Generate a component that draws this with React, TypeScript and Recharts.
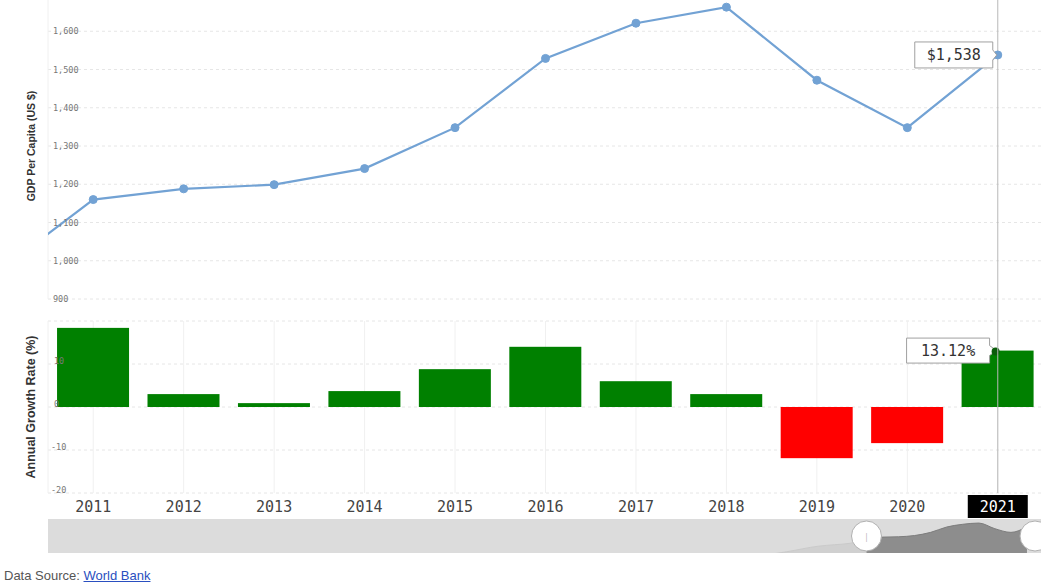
// GDP per capita + taxa de crescimento anual, estilo macrotrends, com Recharts.
import React from 'react'
import {
  LineChart, Line, BarChart, Bar, Cell, AreaChart, Area, XAxis, YAxis,
  CartesianGrid, ReferenceLine, ReferenceDot,
} from 'recharts'

// dados (2010 só aparece cortado na borda esquerda)
const years = [2010, 2011, 2012, 2013, 2014, 2015, 2016, 2017, 2018, 2019, 2020, 2021]
const gdpPerCapita = [980, 1160, 1188, 1199, 1241, 1348, 1529, 1621, 1663, 1472, 1348, 1538]
const gdpTicks = [900, 1000, 1100, 1200, 1300, 1400, 1500, 1600, 1700]

const growthYears = ['2011', '2012', '2013', '2014', '2015', '2016', '2017', '2018', '2019', '2020', '2021']
const growthRate = [18.4, 3.0, 0.9, 3.7, 8.8, 14.0, 6.0, 3.0, -11.9, -8.4, 13.12]
const growthTicks = [-20, -10, 0, 10, 20]

// navegador (histórico longo, bem apagado no original)
const navHistoryYears = [1960, 1965, 1970, 1975, 1980, 1985, 1990, 1995, 2000, 2003, 2006, 2008, 2009]
const navHistoryValues = [90, 110, 140, 230, 430, 330, 370, 350, 420, 480, 690, 880, 930]
const navLabels = [1960, 1970, 1980, 1990, 2000, 2010, 2020]

const LINE = '#72a2d4'
const MONO = '"DejaVu Sans Mono", monospace'
const SANS = '"Liberation Sans", Arial, sans-serif'

const gdpData = years.map((y, i) => ({ year: y, gdp: gdpPerCapita[i] }))
const growthData = growthYears.map((y, i) => ({ year: y, rate: growthRate[i] }))
const navYears = [...navHistoryYears, ...years]
const navValues = [...navHistoryValues, ...gdpPerCapita]
const navData = navYears.map((y, i) => ({
  year: y,
  past: y <= 2011 ? navValues[i] : null,
  sel: y >= 2011 ? navValues[i] : null,
}))

const lastGdp = gdpData.length - 1
const lastRate = growthData.length - 1
// px por unidade no painel de barras: 172px / 40
const CROSS_TOP = 20 + 22 / (172 / 40)

function callout(cx: number, cy: number, left: number, right: number, h: number, text: string) {
  const x0 = cx - left
  const x1 = cx - right
  const y0 = cy - h / 2
  const y1 = cy + h / 2
  const d = `M${x0},${y0} H${x1} V${cy - 5} L${cx - 1},${cy} L${x1},${cy + 5} V${y1} H${x0} Z`
  return (
    <g>
      <path d={d} fill="#fff" stroke="#a0a0a0" strokeWidth={1} />
      <text x={(x0 + x1) / 2} y={cy + 5} textAnchor="middle" fontFamily={MONO} fontSize={15} fill="#333">
        {text}
      </text>
    </g>
  )
}

function GdpDot(p: any) {
  const { cx, cy, index } = p
  if (cx == null || cy == null) return <g key={index} />
  return (
    <g key={index}>
      <circle cx={cx} cy={cy} r={4} fill={LINE} stroke={LINE} />
      {index === lastGdp && callout(cx, cy, 83, 5, 26, '$' + gdpPerCapita[index].toLocaleString('en-US'))}
    </g>
  )
}

function RateBar(p: any) {
  const { x, y, width, height, fill, index } = p
  const top = height < 0 ? y + height : y
  const h = Math.abs(height)
  const cx = x + width / 2
  return (
    <g>
      <rect x={x} y={top} width={width} height={h} fill={fill} />
      {index === lastRate && (
        <g>
          {callout(cx, top, 91, 8, 25, growthRate[index].toFixed(2) + '%')}
          <circle cx={cx - 2} cy={top + 1} r={4} fill="#0a5c0a" />
        </g>
      )}
    </g>
  )
}

function GdpTick(p: any) {
  const { y, payload } = p
  if (payload.value > 1600) return <g />
  return (
    <text x={53} y={y + 3} fontFamily={MONO} fontSize={8.5} fill="#777">
      {payload.value.toLocaleString('en-US')}
    </text>
  )
}

function RateTick(p: any) {
  const { y, payload } = p
  if (payload.value > 10) return <g />
  return (
    <text x={payload.value < 0 ? 51 : 54} y={y} fontFamily={MONO} fontSize={8.5} fill="#777">
      {payload.value}
    </text>
  )
}

function YearTick(p: any) {
  const { x, y, payload } = p
  const active = payload.value === '2021'
  return (
    <g>
      {active && <rect x={x - 30} y={y + 2} width={60} height={23} fill="#000" />}
      <text x={x} y={y + 19} textAnchor="middle" fontFamily={MONO} fontSize={15} fill={active ? '#fff' : '#444'}>
        {payload.value}
      </text>
    </g>
  )
}

function NavTick(p: any) {
  const { x, y, payload } = p
  return (
    <text x={x + 3} y={y - 4} fontFamily={SANS} fontSize={8} fill="#f4f4f4">
      {payload.value}
    </text>
  )
}

function axisTitle(text: string, size: number) {
  return (p: any) => {
    const vb = p.viewBox || {}
    const cx = (vb.x || 0) + 31
    const cy = (vb.y || 0) + (vb.height || 0) / 2
    return (
      <text
        x={cx} y={cy} transform={`rotate(-90, ${cx}, ${cy})`} textAnchor="middle"
        dominantBaseline="central" fontFamily={SANS} fontWeight="bold" fontSize={size} fill="#333"
      >
        {text}
      </text>
    )
  }
}

export default function App() {
  return (
    <div style={{ position: 'absolute', left: 0, top: 0, width: 1041, height: 588, overflow: 'hidden', background: '#fff' }}>
      {/* painel de cima: GDP per capita */}
      <div style={{ position: 'absolute', left: 0, top: -7 }}>
        <LineChart width={1043} height={316} data={gdpData} margin={{ top: 0, right: 0, bottom: 10, left: 0 }}>
          <CartesianGrid vertical={false} stroke="#e6e6e6" strokeDasharray="3 3" />
          <CartesianGrid horizontal={false} stroke="#f0f0f0" />
          <XAxis
            dataKey="year" type="number" domain={[2010.5, 2021.5]} allowDataOverflow
            ticks={years.slice(1)} height={0} tick={false} axisLine={false} tickLine={false}
          />
          <YAxis
            domain={[900, 1700]} ticks={gdpTicks} width={48} axisLine={false} tickLine={false}
            tick={<GdpTick />} label={{ content: axisTitle('GDP Per Capita (US $)', 10.5) } as any}
          />
          <ReferenceLine x={2021} stroke="#b8b8b8" />
          <Line
            type="linear" dataKey="gdp" stroke={LINE} strokeWidth={2.2}
            dot={GdpDot} activeDot={false} isAnimationActive={false}
          />
        </LineChart>
      </div>

      {/* painel de baixo: taxa de crescimento */}
      <div style={{ position: 'absolute', left: 0, top: 299 }}>
        <BarChart
          width={1043} height={220} data={growthData} barCategoryGap="10%"
          margin={{ top: 22, right: 0, bottom: 0, left: 0 }}
        >
          <CartesianGrid vertical={false} stroke="#e6e6e6" strokeDasharray="3 3" />
          <CartesianGrid horizontal={false} stroke="#f0f0f0" />
          <XAxis
            dataKey="year" height={26} axisLine={false} tickLine={false} tickSize={0} tickMargin={0}
            interval={0} tick={<YearTick />}
          />
          <YAxis
            domain={[-20, 20]} ticks={growthTicks} width={48} axisLine={false} tickLine={false}
            tick={<RateTick />} label={{ content: axisTitle('Annual Growth Rate (%)', 12.5) } as any}
          />
          <ReferenceLine
            segment={[{ x: '2021', y: CROSS_TOP }, { x: '2021', y: -20 }]}
            stroke="#b8b8b8" ifOverflow="visible"
          />
          <Bar dataKey="rate" shape={RateBar} isAnimationActive={false}>
            {growthRate.map((v, i) => (
              <Cell key={i} fill={v >= 0 ? '#008000' : '#ff0000'} />
            ))}
          </Bar>
        </BarChart>
      </div>

      {/* navegador */}
      <div style={{ position: 'absolute', left: 48, top: 519, width: 993, height: 34, background: '#dcdcdc' }}>
        <AreaChart width={993} height={34} data={navData} margin={{ top: 0, right: 6, bottom: 0, left: 0 }}>
          <XAxis
            dataKey="year" type="number" domain={[1960, 2021.5]} allowDataOverflow ticks={navLabels}
            height={0} axisLine={false} tickLine={false} tickSize={0} tickMargin={0} tick={<NavTick />}
          />
          <YAxis hide domain={[650, 1800]} allowDataOverflow />
          <Area
            type="monotone" dataKey="past" fill="#d0d0d0" fillOpacity={1} stroke="#cacaca"
            isAnimationActive={false} connectNulls={false}
          />
          <Area
            type="monotone" dataKey="sel" fill="#8d8d8d" fillOpacity={1} stroke="#7d7d7d"
            isAnimationActive={false} connectNulls={false}
          />
          <ReferenceDot
            x={2011} y={1225} r={15} fill="#fff" stroke="#b0b0b0" ifOverflow="visible"
            label={{ value: '|', position: 'center', fill: '#aaa', fontSize: 10 }}
          />
          <ReferenceDot x={2021.5} y={1225} r={15} fill="#fff" stroke="#b0b0b0" ifOverflow="visible" />
        </AreaChart>
      </div>

      <div style={{ position: 'absolute', left: 4, top: 568, fontFamily: SANS, fontSize: 13, lineHeight: '16px', color: '#555' }}>
        Data Source:{' '}
        <a href="#" style={{ color: '#2a4fc0', textDecoration: 'underline' }}>World Bank</a>
      </div>
    </div>
  )
}
